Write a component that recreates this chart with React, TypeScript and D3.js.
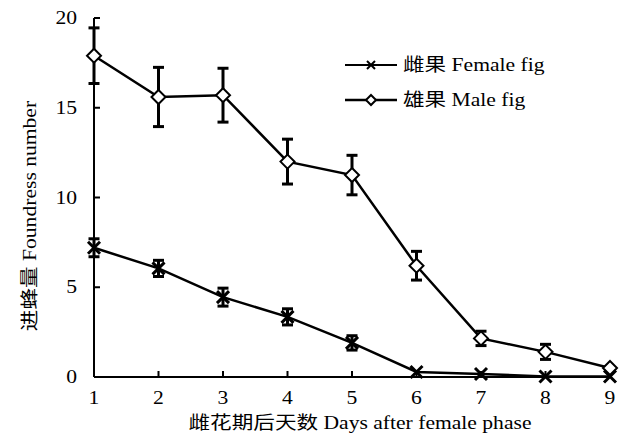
import React from "react"
import * as d3 from "d3"

// days after female phase
const days = [1, 2, 3, 4, 5, 6, 7, 8, 9]

// foundress number, female fig (mean, SE)
const femaleMean = [7.2, 6.05, 4.45, 3.35, 1.9, 0.28, 0.17, 0.03, 0.03]
const femaleErr = [0.5, 0.45, 0.5, 0.45, 0.4, 0, 0, 0, 0]

// foundress number, male fig (mean, SE)
const maleMean = [17.9, 15.6, 15.7, 12.0, 11.25, 6.2, 2.15, 1.4, 0.5]
const maleErr = [1.55, 1.65, 1.5, 1.25, 1.1, 0.8, 0.4, 0.42, 0.05]

const yTicks = [0, 5, 10, 15, 20]

const serif = "'Liberation Serif', 'Times New Roman', 'Noto Sans CJK SC', serif"

// text in the original is drawn a bit wider than it is tall
function Txt(props: { x: number, y: number, anchor?: string, rotate?: number, size?: number, children: any }) {
  const { x, y, anchor = "start", rotate = 0, size = 18 } = props
  return (
    <text transform={`translate(${x},${y}) rotate(${rotate}) scale(1.2,1)`}
      textAnchor={anchor} fontSize={size} fill="#000">{props.children}</text>
  )
}

export default function App() {
  const width = 627, height = 437
  const margin = { top: 18, right: 17, bottom: 60, left: 94 }

  const x = d3.scaleLinear()
    .domain([1, 9])
    .range([margin.left, width - margin.right])
  const y = d3.scaleLinear()
    .domain([0, 20])
    .range([height - margin.bottom, margin.top])

  const line = d3.line<number>()
    .x((d, i) => x(days[i]))
    .y(d => y(d))

  const errBars = (mean: number[], err: number[]) =>
    mean.map((m, i) => {
      if (err[i] <= 0.05) return null
      const cx = x(days[i])
      return (
        <g key={"e" + i} stroke="#000" strokeWidth={3}>
          <line x1={cx} x2={cx} y1={y(m - err[i])} y2={y(m + err[i])} />
          <line x1={cx - 5.5} x2={cx + 5.5} y1={y(m - err[i])} y2={y(m - err[i])} />
          <line x1={cx - 5.5} x2={cx + 5.5} y1={y(m + err[i])} y2={y(m + err[i])} />
        </g>
      )
    })

  const cross = (cx: number, cy: number, r: number, w: number, key?: string) => (
    <path key={key} d={`M${cx - r},${cy - r}L${cx + r},${cy + r}M${cx - r},${cy + r}L${cx + r},${cy - r}`}
      stroke="#000" strokeWidth={w} fill="none" />
  )
  const diamond = (cx: number, cy: number, r: number, w: number, key?: string) => (
    <path key={key} d={`M${cx},${cy - r}L${cx + r},${cy}L${cx},${cy + r}L${cx - r},${cy}Z`}
      stroke="#000" strokeWidth={w} fill="#fff" />
  )

  const y0 = y(0)

  return (
    <svg width={width} height={height} style={{ position: "absolute", left: 0, top: 0, background: "#fff" }}
      fontFamily={serif}>
      {/* axes */}
      <line x1={x(1)} x2={x(1)} y1={y0} y2={y(20)} stroke="#000" strokeWidth={2} />
      <line x1={x(1)} x2={x(9)} y1={y0} y2={y0} stroke="#000" strokeWidth={2} />
      {yTicks.map(t => (
        <g key={"yt" + t}>
          <line x1={x(1)} x2={x(1) + 6} y1={y(t)} y2={y(t)} stroke="#000" strokeWidth={2} />
          <Txt x={x(1) - 17} y={y(t) + 6} anchor="end">{t}</Txt>
        </g>
      ))}
      {days.map(d => (
        <g key={"xt" + d}>
          <line x1={x(d)} x2={x(d)} y1={y0} y2={y0 - 6} stroke="#000" strokeWidth={2} />
          <Txt x={x(d)} y={y0 + 27} anchor="middle">{d}</Txt>
        </g>
      ))}
      <Txt x={360} y={429} anchor="middle">雌花期后天数 Days after female phase</Txt>
      <Txt x={36} y={216} anchor="middle" rotate={-90}>进蜂量 Foundress number</Txt>

      {/* female */}
      <path d={line(femaleMean) || ""} fill="none" stroke="#000" strokeWidth={2.5} />
      {errBars(femaleMean, femaleErr)}
      {femaleMean.map((m, i) => cross(x(days[i]), y(m), 6, 3, "f" + i))}

      {/* male */}
      <path d={line(maleMean) || ""} fill="none" stroke="#000" strokeWidth={2.5} />
      {errBars(maleMean, maleErr)}
      {maleMean.map((m, i) => diamond(x(days[i]), y(m), 7, 2, "m" + i))}

      {/* legend */}
      <line x1={345} x2={397} y1={65} y2={65} stroke="#000" strokeWidth={2} />
      {cross(371, 65, 4, 2)}
      <Txt x={403} y={71}>雌果 Female fig</Txt>
      <line x1={345} x2={397} y1={100} y2={100} stroke="#000" strokeWidth={2.5} />
      {diamond(371, 100, 5, 2)}
      <Txt x={403} y={106}>雄果 Male fig</Txt>
    </svg>
  )
}
